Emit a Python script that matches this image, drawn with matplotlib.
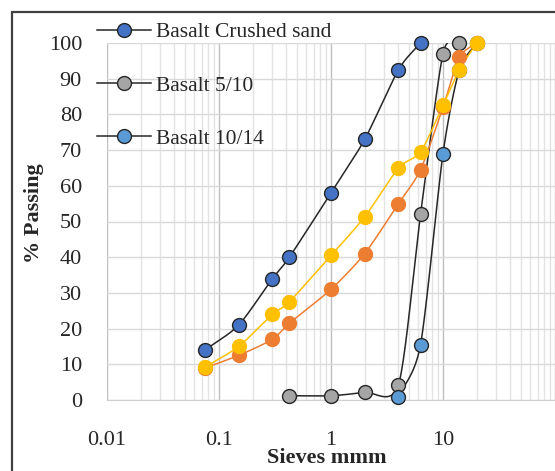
import numpy as np
import matplotlib
matplotlib.use("Agg")
import matplotlib.pyplot as plt
from matplotlib.patches import Rectangle

plt.rcParams['font.family'] = ['Liberation Serif', 'DejaVu Serif']

sieves_sand = [0.075, 0.15, 0.3, 0.425, 1, 2, 4, 6.3]
crushed_sand = [14, 21, 34, 40, 58, 73, 92.5, 100]

sieves_510 = [0.425, 1, 2, 4, 6.3, 10, 14]
basalt_510 = [1.2, 1.2, 2.2, 4.2, 52, 97, 100]

sieves_1014 = [4, 6.3, 10, 14, 20]
basalt_1014 = [0.8, 15.5, 69, 92.5, 100]

sieves_mix = [0.075, 0.15, 0.3, 0.425, 1, 2, 4, 6.3, 10, 14, 20]
mix_orange = [9, 12.5, 17, 21.5, 31, 41, 55, 64.5, 82, 96, 100]
mix_yellow = [9.2, 15, 24, 27.5, 40.5, 51.3, 65, 69.5, 82.5, 92.5, 100]

x_ticks = [0.01, 0.1, 1, 10, 100]
x_tick_labels = ['0.01', '0.1', '1', '10', '']
y_ticks = list(range(0, 101, 10))

W, H = 555, 471
PX_DEC, PX_Y = 112.0, 3.57


def smooth(xs, ys, n=24, k=8.0):
    # Bezier smoothing computed in screen-like space (like spreadsheet smoothed lines)
    lx = np.log10(np.asarray(xs, float)) * PX_DEC
    y = np.asarray(ys, float) * PX_Y
    P = np.column_stack([lx, y])
    P = np.vstack([P[0] * 2 - P[1], P, P[-1] * 2 - P[-2]])
    out = []
    for i in range(1, len(P) - 2):
        p0, p1, p2, p3 = P[i - 1], P[i], P[i + 1], P[i + 2]
        t = np.linspace(0, 1, n)[:, None]
        c1 = p1 + (p2 - p0) / k
        c2 = p2 - (p3 - p1) / k
        seg = ((1 - t) ** 3) * p1 + 3 * ((1 - t) ** 2) * t * c1 + 3 * (1 - t) * t ** 2 * c2 + t ** 3 * p2
        out.append(seg)
    out = np.vstack(out)
    return 10 ** (out[:, 0] / PX_DEC), out[:, 1] / PX_Y


fig = plt.figure(figsize=(W / 100, H / 100), dpi=100)
ax = fig.add_axes([107 / W, 1 - 400 / H, (555 - 107) / W, (400 - 43) / H])

ax.set_xscale('log')
ax.set_xlim(0.01, 100)
ax.set_ylim(0, 100)

ax.grid(True, which='major', axis='x', color='#BFBFBF', lw=1.0)
ax.grid(True, which='minor', axis='x', color='#E3E3E3', lw=1.0)
ax.grid(True, which='major', axis='y', color='#D9D9D9', lw=1.0)
ax.set_axisbelow(True)
for s in ['top', 'right', 'left']:
    ax.spines[s].set_visible(False)
ax.spines['bottom'].set_color('#D0D0D0')

ms = 10
series = [
    (sieves_sand, crushed_sand, '#4472C4', '#262626', '#262626', 'Basalt Crushed sand'),
    (sieves_510, basalt_510, '#A5A5A5', '#262626', '#262626', 'Basalt 5/10'),
    (sieves_1014, basalt_1014, '#5B9BD5', '#262626', '#262626', 'Basalt 10/14'),
    (sieves_mix, mix_orange, '#ED7D31', '#ED7D31', '#ED7D31', None),
    (sieves_mix, mix_yellow, '#FFC000', '#FFC000', '#FFC000', None),
]
handles = []
for xs, ys, fc, ec, lc, lab in series:
    sx, sy = smooth(xs, ys)
    ax.plot(sx, sy, color=lc, lw=1.1, zorder=2)
    ax.plot(xs, ys, ls='none', marker='o', ms=ms, mfc=fc, mec=ec, mew=1.0, zorder=3, clip_on=False)
    if lab:
        h, = ax.plot([], [], color=lc, lw=1.1, marker='o', ms=ms, mfc=fc, mec=ec, mew=1.0, label=lab)
        handles.append(h)

ax.set_xticks(x_ticks)
ax.set_xticklabels(x_tick_labels)
ax.set_yticks(y_ticks)
ax.tick_params(axis='both', which='both', length=0, labelsize=16, labelcolor='#262626')
ax.tick_params(axis='y', pad=18)
ax.tick_params(axis='x', pad=22)

fig.text(34 / W, 1 - 213 / H, '% Passing', rotation=90, ha='center', va='center',
         fontsize=16, fontweight='bold', color='#262626')
fig.text(327 / W, 1 - 458 / H, 'Sieves mmm', ha='center', va='center',
         fontsize=16, fontweight='bold', color='#262626')

leg = fig.legend(handles=handles, loc='upper left', bbox_to_anchor=(97 / W, 1 - 22 / H),
                 frameon=False, fontsize=15.5, handlelength=2.5, handletextpad=0.25,
                 labelspacing=1.55, borderpad=0, borderaxespad=0)
for t in leg.get_texts():
    t.set_color('#262626')

fig.patches.append(Rectangle((12 / W, -0.05), 1.0, 1 - 12 / H + 0.05, transform=fig.transFigure,
                             fill=False, ec='#404040', lw=1.6))

fig.savefig('out.png', dpi=100)
